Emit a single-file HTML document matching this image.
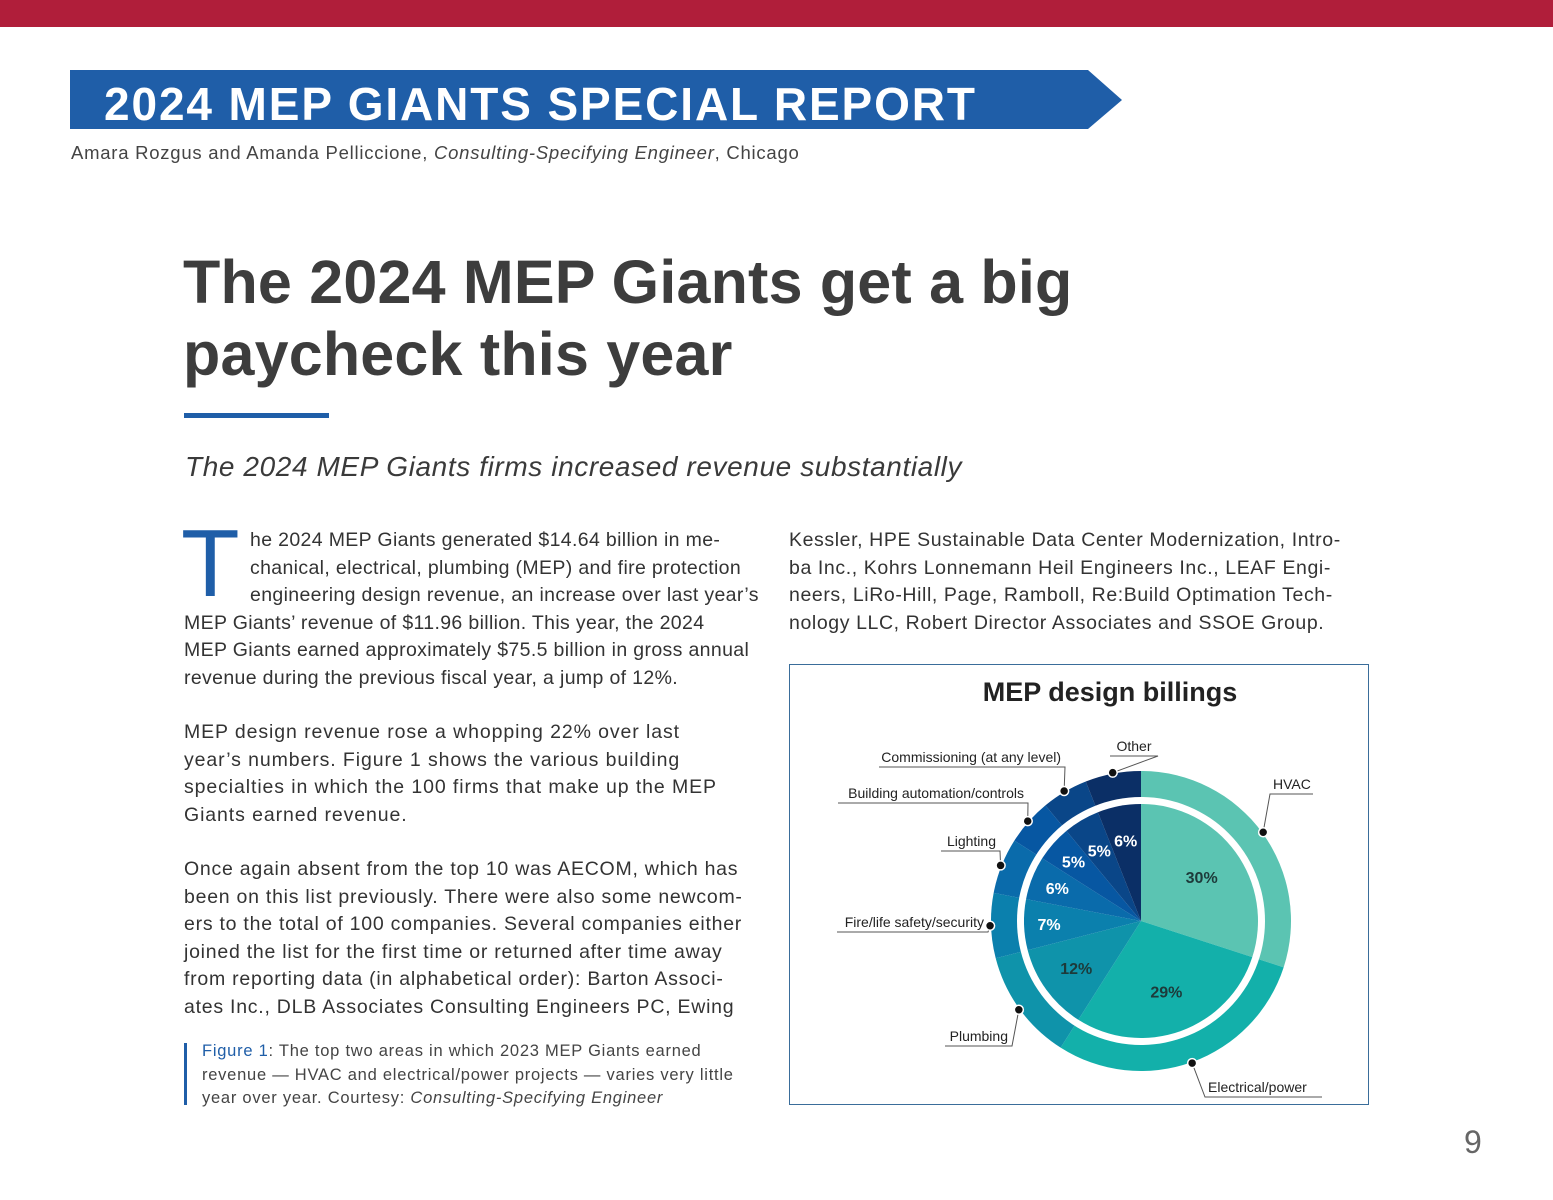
<!DOCTYPE html>
<html><head><meta charset="utf-8">
<style>
body{margin:0;width:1553px;height:1200px;background:#fff;position:relative;overflow:hidden;font-family:"Liberation Sans",sans-serif;color:#3a3a3a}
.abs{position:absolute;white-space:nowrap}
.body{font-size:19.5px;color:#333}
</style></head><body>
<div class="abs" style="left:0;top:0;width:1553px;height:27px;background:#b01e3a"></div>
<svg class="abs" style="left:0;top:0" width="1553" height="140">
<polygon points="70,70 1088,70 1122,100 1088,129 70,129" fill="#1f5ea8"/>
<text x="104" y="120" font-family="Liberation Sans" font-weight="bold" font-size="46" letter-spacing="2" textLength="873" fill="#fff">2024 MEP GIANTS SPECIAL REPORT</text>
</svg>
<div class="abs" style="left:71px;top:142px;font-size:18.5px;color:#444;letter-spacing:0.75px">Amara Rozgus and Amanda Pelliccione, <i>Consulting-Specifying Engineer</i>, Chicago</div>
<div class="abs" style="left:183px;top:246px;font-size:61px;font-weight:bold;line-height:72px;color:#3d3d3d;letter-spacing:0.2px">The 2024 MEP Giants get a big<br>paycheck this year</div>
<div class="abs" style="left:184px;top:413px;width:145px;height:5px;background:#1f5ea8"></div>
<div class="abs" style="left:185px;top:451px;font-size:28px;font-style:italic;color:#3a3a3a;letter-spacing:0.6px">The 2024 MEP Giants firms increased revenue substantially</div>
<div class="abs" style="left:181px;top:516px;font-size:96px;line-height:96px;color:#1f5ea8">T</div>
<div class="abs body" style="left:184px;top:527px;line-height:27.6px;letter-spacing:0.35px">
<span style="margin-left:66px">he 2024 MEP Giants generated $14.64 billion in me-</span><br>
<span style="margin-left:66px">chanical, electrical, plumbing (MEP) and fire protection</span><br>
<span style="margin-left:66px">engineering design revenue, an increase over last year’s</span><br>
MEP Giants’ revenue of $11.96 billion. This year, the 2024<br>
MEP Giants earned approximately $75.5 billion in gross annual<br>
revenue during the previous fiscal year, a jump of 12%.</div>
<div class="abs body" style="left:184px;top:719px;line-height:27.6px;letter-spacing:0.9px">MEP design revenue rose a whopping 22% over last<br>year’s numbers. Figure 1 shows the various building<br>specialties in which the 100 firms that make up the MEP<br>Giants earned revenue.</div>
<div class="abs body" style="left:184px;top:856px;line-height:27.6px;letter-spacing:0.75px">Once again absent from the top 10 was AECOM, which has<br>been on this list previously. There were also some newcom-<br>ers to the total of 100 companies. Several companies either<br>joined the list for the first time or returned after time away<br>from reporting data (in alphabetical order): Barton Associ-<br>ates Inc., DLB Associates Consulting Engineers PC, Ewing</div>
<div class="abs" style="left:184px;top:1043px;width:3px;height:62px;background:#1f5ea8"></div>
<div class="abs" style="left:202px;top:1040px;font-size:16.5px;line-height:23.5px;color:#444;letter-spacing:0.75px"><span style="color:#1f5ea8">Figure 1</span>: The top two areas in which 2023 MEP Giants earned<br>revenue — HVAC and electrical/power projects — varies very little<br>year over year. Courtesy: <i>Consulting-Specifying Engineer</i></div>
<div class="abs body" style="left:789px;top:527px;line-height:27.6px;letter-spacing:0.6px">Kessler, HPE Sustainable Data Center Modernization, Intro-<br>ba Inc., Kohrs Lonnemann Heil Engineers Inc., LEAF Engi-<br>neers, LiRo-Hill, Page, Ramboll, Re:Build Optimation Tech-<br>nology LLC, Robert Director Associates and SSOE Group.</div>
<div class="abs" style="left:1464px;top:1124px;font-size:32px;color:#666">9</div>
<div class="abs" style="left:789px;top:664px;width:578px;height:439px;border:1px solid #3a6d9a"></div>
<svg id="chart" class="abs" style="left:0;top:0" width="1553" height="1200"></svg>
<script>
const categories=["HVAC","Electrical/power","Plumbing","Fire/life safety/security","Lighting","Building automation/controls","Commissioning (at any level)","Other"];
const values=[30,29,12,7,6,5,5,6];
const colors=["#5bc4b2","#13b0aa","#0f93aa","#0b80ad","#0a6bab","#0757a2","#0a4688","#0b2f66"];
const labelColors=["#1d3a3a","#1d3a3a","#1d3a3a","#fff","#fff","#fff","#fff","#fff"];
const NS="http://www.w3.org/2000/svg";
const svg=document.getElementById('chart');
const cx=1141,cy=921,R=150,RW=124,RI=117;
function mk(t,a){const e=document.createElementNS(NS,t);for(const k in a)e.setAttribute(k,a[k]);svg.appendChild(e);return e;}
function pt(a,r){return [cx+r*Math.sin(a),cy-r*Math.cos(a)];}
function arc(a0,a1,r){const p0=pt(a0,r),p1=pt(a1,r);const lg=(a1-a0)>Math.PI?1:0;return `M${cx},${cy} L${p0[0]},${p0[1]} A${r},${r} 0 ${lg} 1 ${p1[0]},${p1[1]} Z`;}
const total=values.reduce((a,b)=>a+b,0);
const t=mk('text',{x:1110,y:701,'text-anchor':'middle','font-family':'Liberation Sans','font-weight':'bold','font-size':27,fill:'#222'});
t.textContent='MEP design billings';


let a=0;const angs=[];
values.forEach((v,i)=>{const a1=a+v/total*2*Math.PI;angs.push([a,a1]);
 const p=mk('path',{d:arc(a,a1,R),fill:colors[i]});
 
 
 a=a1;});
const ring=mk('circle',{cx:cx,cy:cy,r:RW,fill:'#fff'});


values.forEach((v,i)=>{const [a0,a1]=angs[i];
 const p=mk('path',{d:arc(a0,a1,RI),fill:colors[i]});
 
 
 const m=(a0+a1)/2;const lr=i<2?75:(i===2?80:(i===3?92:(i>=6?82:90)));
 const q=pt(m,lr);
 const l=mk('text',{x:q[0],y:q[1]+6,'text-anchor':'middle','font-family':'Liberation Sans','font-weight':'bold','font-size':16,fill:labelColors[i]});
 l.textContent=v+'%';
 
 });
const callouts=[[1310,789,'start',1270,1313],[1212,1092,'start',1205,1322],[977,1041,'end',945,1012],[983,927,'end',837,988],[968,846,'end',941,1000],[930,798,'end',838,1028],[972,762,'end',879,1065],[1134,751,'middle',1110,1158]];
values.forEach((v,i)=>{const [a0,a1]=angs[i];const m=(a0+a1)/2;const d=pt(m,R+1);
 const lx=callouts[i][0],ly=callouts[i][1];
 const ux=(lx<cx?callouts[i][4]:callouts[i][3]);
 const uy=ly+5;
 const ln=mk('polyline',{points:`${d[0]},${d[1]} ${ux},${uy} ${callouts[i][3]},${uy} ${callouts[i][4]},${uy}`,fill:'none',stroke:'#555','stroke-width':1});
 
 
 const dot=mk('circle',{cx:d[0],cy:d[1],r:4.5,fill:'#111',stroke:'#fff','stroke-width':1.5});
 
 
 const tx=callouts[i][2]==='start'?callouts[i][3]+3:(callouts[i][2]==='end'?callouts[i][4]-4:lx);
 const tt=mk('text',{x:tx,y:ly,'text-anchor':callouts[i][2],'font-family':'Liberation Sans','font-size':14,fill:'#222'});
 tt.textContent=categories[i];
 
 });
</script>
</body></html>
